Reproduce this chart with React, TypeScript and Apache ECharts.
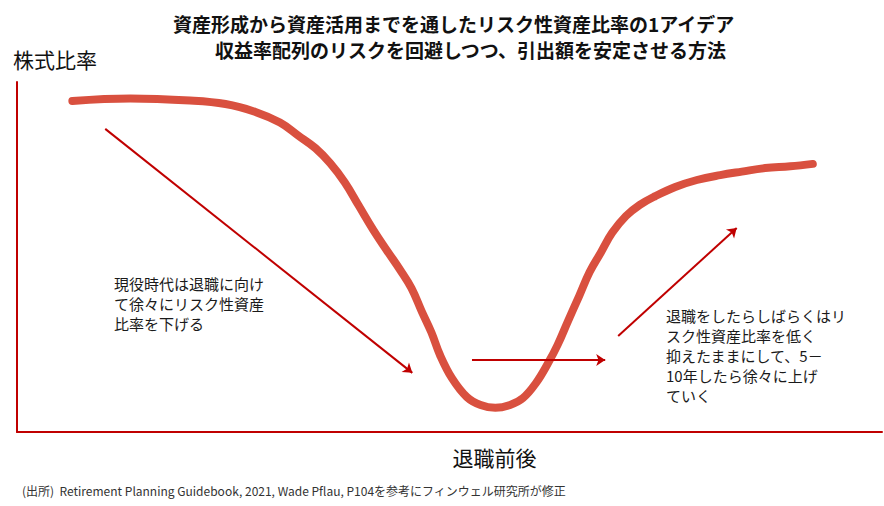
import React, { useEffect, useRef } from "react";
import * as echarts from "echarts";

// Conceptual glide path: x = time around retirement (0-100), y = equity ratio (0-100)
const curveT = [6.4, 13.1, 20.0, 24.1, 27.5, 30.4, 32.5, 34.5, 36.2, 37.9, 39.5, 41.2, 42.7, 44.3, 45.6, 46.8, 47.9, 48.9, 50.3, 52.0, 53.6, 55.3, 57.0, 58.5, 60.0, 61.4, 62.5, 63.7, 65.0, 66.2, 67.5, 68.8, 70.4, 72.0, 73.8, 76.1, 78.6, 81.3, 83.8, 86.5, 89.4, 92.0];
const curveV = [94.6, 95.3, 94.7, 93.7, 91.5, 88.4, 84.7, 81.1, 76.8, 71.3, 64.7, 57.7, 52.1, 46.3, 41.1, 34.4, 28.5, 22.0, 15.3, 10.0, 7.7, 6.9, 7.7, 9.7, 14.0, 19.7, 24.9, 31.7, 38.9, 45.7, 51.3, 56.9, 61.7, 64.9, 67.4, 70.0, 72.0, 73.4, 74.4, 75.4, 75.9, 76.6];

// Arrows: [startT, startV, endT, endV]
const arrowDown = [10.2, 86.6, 45.7, 16.9];
const arrowFlat = [52.6, 20.6, 68.0, 20.6];
const arrowUp = [69.5, 27.4, 83.2, 58.3];

const titleLine1 = "資産形成から資産活用までを通したリスク性資産比率の1アイデア";
const titleLine2 = "収益率配列のリスクを回避しつつ、引出額を安定させる方法";
const yAxisName = "株式比率";
const xAxisName = "退職前後";
const noteLeft = ["現役時代は退職に向け", "て徐々にリスク性資産", "比率を下げる"];
const noteRight = ["退職をしたらしばらくはリ", "スク性資産比率を低く", "抑えたままにして、5－", "10年したら徐々に上げ", "ていく"];
const sourceText = "(出所)  Retirement Planning Guidebook, 2021, Wade Pflau, P104を参考にフィンウェル研究所が修正";

const FONT = '"Noto Sans CJK JP", "Noto Sans", sans-serif';
const AXIS_RED = "#C00000";
const CURVE_RED = "#D9503F";

export default function App() {
  const ref = useRef<HTMLDivElement>(null);
  useEffect(() => {
    if (!ref.current) return;
    const chart = echarts.init(ref.current, undefined, { renderer: "svg" });
    const arrows = [arrowDown, arrowFlat, arrowUp].map((a) => ({
      coords: [
        [a[0], a[1]],
        [a[2], a[3]],
      ],
    }));
    chart.setOption({
      animation: false,
      backgroundColor: "#ffffff",
      textStyle: { fontFamily: FONT },
      title: [
        {
          text: titleLine1,
          left: 168,
          top: 9,
          textStyle: { fontFamily: FONT, fontSize: 19, fontWeight: "bold", color: "#111111" },
        },
        {
          text: titleLine2,
          left: 210,
          top: 35,
          textStyle: { fontFamily: FONT, fontSize: 19, fontWeight: "bold", color: "#111111" },
        },
      ],
      grid: { left: 17, right: 2, top: 82, bottom: 74, containLabel: false },
      xAxis: {
        type: "value",
        min: 0,
        max: 100,
        name: xAxisName,
        nameLocation: "middle",
        nameGap: 14,
        nameTextStyle: { fontFamily: FONT, fontSize: 21, color: "#111111", padding: [0, 0, 0, 90] },
        axisLine: { show: true, lineStyle: { color: AXIS_RED, width: 2 } },
        axisTick: { show: false },
        axisLabel: { show: false },
        splitLine: { show: false },
      },
      yAxis: {
        type: "value",
        min: 0,
        max: 100,
        name: yAxisName,
        nameLocation: "end",
        nameGap: 13,
        nameTextStyle: { fontFamily: FONT, fontSize: 21, color: "#111111", align: "left", padding: [0, 0, 0, -4] },
        axisLine: { show: true, lineStyle: { color: AXIS_RED, width: 2 } },
        axisTick: { show: false },
        axisLabel: { show: false },
        splitLine: { show: false },
      },
      series: [
        {
          type: "line",
          data: curveT.map((t, i) => [t, curveV[i]]),
          smooth: 0.4,
          showSymbol: false,
          symbol: "none",
          lineStyle: { color: CURVE_RED, width: 8, cap: "round", join: "round" },
          z: 2,
        },
        {
          type: "lines",
          coordinateSystem: "cartesian2d",
          data: arrows,
          symbol: ["none", "arrow"],
          symbolSize: 9,
          lineStyle: { color: AXIS_RED, width: 2, opacity: 1 },
          z: 3,
        },
      ],
      graphic: [
        {
          type: "text",
          left: 114,
          top: 273,
          style: { text: noteLeft.join("\n"), font: `15px ${FONT}`, fill: "#1a1a1a", lineHeight: 20 },
        },
        {
          type: "text",
          left: 666,
          top: 305,
          style: { text: noteRight.join("\n"), font: `15px ${FONT}`, fill: "#1a1a1a", lineHeight: 20 },
        },
        {
          type: "text",
          left: 22,
          top: 484,
          style: { text: sourceText, font: `12px ${FONT}`, fill: "#333333" },
        },
      ],
    });
    return () => chart.dispose();
  }, []);
  return <div ref={ref} style={{ width: 884, height: 506, position: "absolute", left: 0, top: 0 }} />;
}
